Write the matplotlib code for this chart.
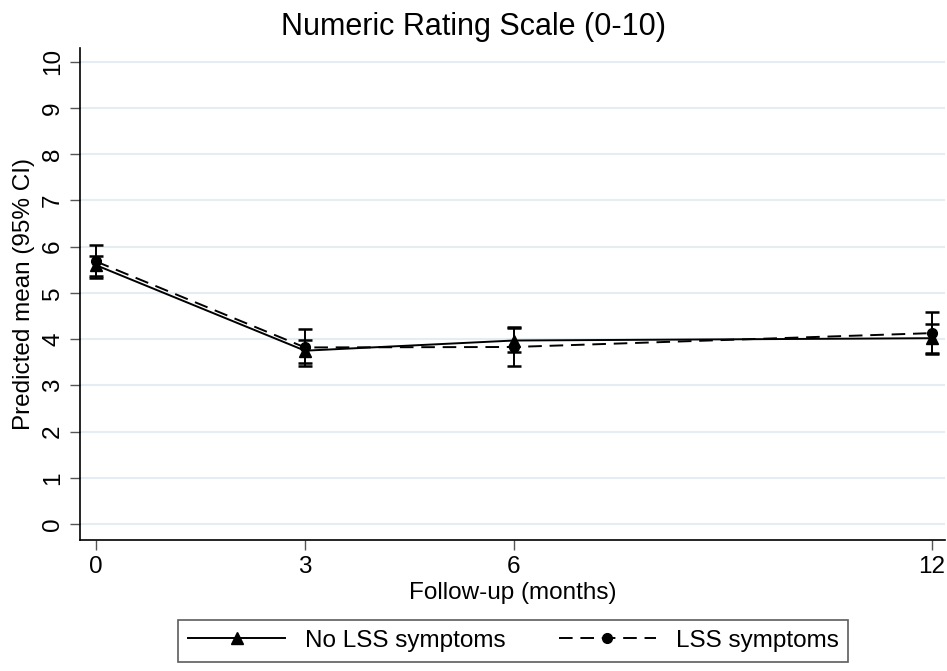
import numpy as np
import matplotlib.pyplot as plt

plt.rcParams['font.family'] = ['Liberation Sans', 'DejaVu Sans']

# follow-up months
months = [0, 3, 6, 12]

# No LSS symptoms (solid, triangle)
no_lss_mean = [5.60, 3.75, 3.97, 4.02]
no_lss_lo = [5.37, 3.48, 3.72, 3.69]
no_lss_hi = [5.80, 3.99, 4.24, 4.33]

# LSS symptoms (dashed, circle)
lss_mean = [5.68, 3.82, 3.83, 4.13]
lss_lo = [5.32, 3.42, 3.41, 3.67]
lss_hi = [6.03, 4.22, 4.27, 4.58]

y_ticks = list(range(0, 11))
x_ticks = [0, 3, 6, 12]

fig = plt.figure(figsize=(9.47, 6.71), dpi=100)
ax = fig.add_axes([0.0845, 0.195, 0.9135, 0.7335])

for yy in y_ticks:
    ax.axhline(yy, color="#e4edf1", linewidth=1.5, zorder=0)

m = np.array(months)
ax.errorbar(m, no_lss_mean,
            yerr=[np.array(no_lss_mean) - np.array(no_lss_lo), np.array(no_lss_hi) - np.array(no_lss_mean)],
            color="black", linestyle="solid", linewidth=1.4, marker="^", markersize=8,
            capsize=5, capthick=1.8, elinewidth=1.4, label="No LSS symptoms")
ax.errorbar(m, lss_mean,
            yerr=[np.array(lss_mean) - np.array(lss_lo), np.array(lss_hi) - np.array(lss_mean)],
            color="black", linestyle=(0, (7, 4)), linewidth=1.4, marker="o", markersize=7,
            capsize=5, capthick=1.8, elinewidth=1.4, label="LSS symptoms")

ax.set_xlim(-0.23, 12.19)
ax.set_ylim(-0.35, 10.3)
ax.set_xticks(x_ticks)
ax.set_yticks(y_ticks)
ax.set_yticklabels([str(t) for t in y_ticks], rotation=90, va="center")
ax.tick_params(axis="both", labelsize=17.5, length=7.5, width=1.0, color="#555555")
ax.tick_params(axis="x", pad=4)
ax.tick_params(axis="y", pad=4)

ax.spines["top"].set_visible(False)
ax.spines["right"].set_visible(False)
ax.spines["left"].set_linewidth(1.2)
ax.spines["bottom"].set_linewidth(1.2)

# title sits at the figure centre, not the axes centre
ax.set_title("Numeric Rating Scale (0-10)", fontsize=22, pad=9, x=0.455)
ax.set_xlabel("Follow-up (months)", fontsize=17.5, labelpad=3)
ax.set_ylabel("Predicted mean (95% CI)", fontsize=17.5, labelpad=5)

handles, labels = ax.get_legend_handles_labels()
handles = [h[0] for h in handles]
leg = fig.legend(handles, labels, loc="lower center", bbox_to_anchor=(0.542, -0.004), ncol=2,
                 fontsize=17.5, handlelength=4.0, columnspacing=2.2, frameon=True, fancybox=False,
                 edgecolor="#333333", borderpad=0.4)
leg.get_frame().set_linewidth(1.2)

fig.savefig("out.png", dpi=100, facecolor="white")
